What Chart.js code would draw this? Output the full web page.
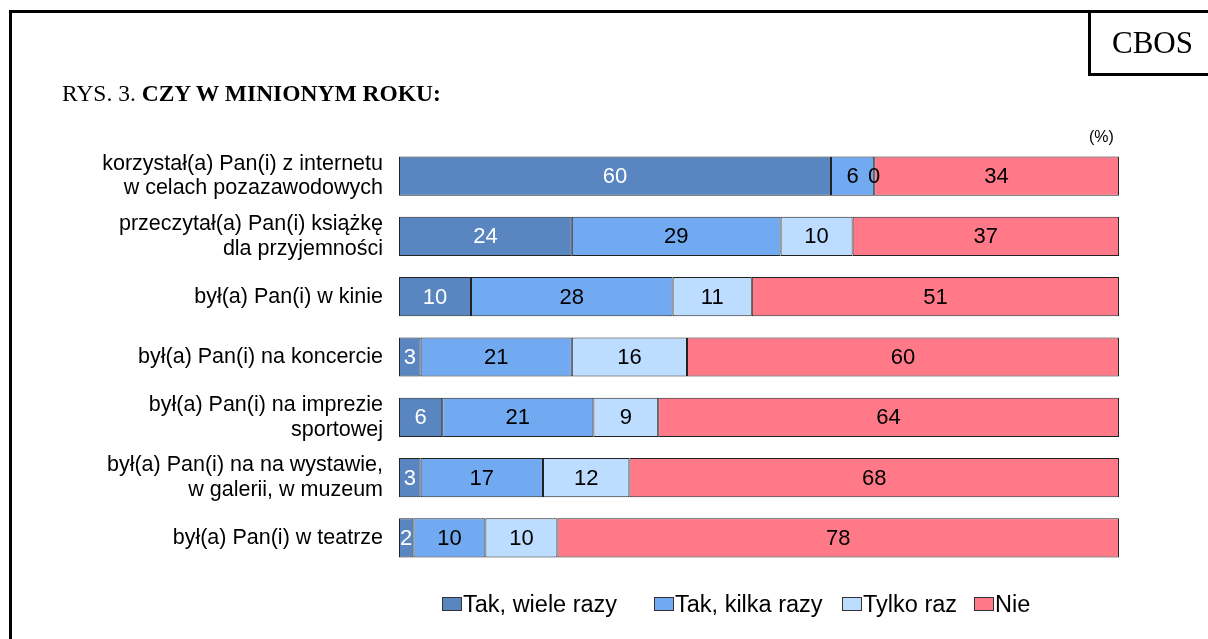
<!DOCTYPE html>
<html>
<head>
<meta charset="utf-8">
<script src="https://cdn.jsdelivr.net/npm/chart.js@4"></script>
<style>
  html, body { margin: 0; padding: 0; background: #fff; }
  #wrap { position: relative; width: 1208px; height: 639px; overflow: hidden; }
  #frameL { position: absolute; left: 9px; top: 10px; width: 3px; height: 640px; background: #000; }
  #frameT { position: absolute; left: 9px; top: 10px; width: 1210px; height: 3px; background: #000; }
  #cbos { position: absolute; left: 1088px; top: 10px; width: 130px; height: 66px; border-left: 3px solid #000; border-bottom: 3px solid #000;
          font-family: "Liberation Serif", serif; font-size: 31px; line-height: 66px; padding-left: 21px; box-sizing: border-box; }
  #title { position: absolute; left: 62px; top: 79px; font-family: "Liberation Serif", serif; font-size: 23.5px; line-height: 28px; }
  #pct { position: absolute; left: 1089px; top: 128px; font-family: "Liberation Sans", Arial, sans-serif; font-size: 16px; }
  #legend { position: absolute; top: 590px; left: 0; width: 1208px; font-family: "Liberation Sans", Arial, sans-serif; font-size: 23.5px; }
  .item { position: absolute; white-space: nowrap; line-height: 28px; }
  .box { display: inline-block; width: 18px; height: 12px; border: 1px solid #333; margin-right: 1px; vertical-align: 1px; }
  canvas { position: absolute; left: 0; top: 0; }
</style>
</head>
<body>
<div id="wrap">
  <canvas id="chart" width="1208" height="639"></canvas>
  <div id="frameL"></div>
  <div id="frameT"></div>
  <div id="cbos">CBOS</div>
  <div id="title">RYS. 3. <b>CZY W MINIONYM ROKU:</b></div>
  <div id="pct">(%)</div>
  <div id="legend"></div>
</div>
<script>
const categories = [
  ['korzystał(a) Pan(i) z internetu', 'w celach pozazawodowych'],
  ['przeczytał(a) Pan(i) książkę', 'dla przyjemności'],
  'był(a) Pan(i) w kinie',
  'był(a) Pan(i) na koncercie',
  ['był(a) Pan(i) na imprezie', 'sportowej'],
  ['był(a) Pan(i) na na wystawie,', 'w galerii, w muzeum'],
  'był(a) Pan(i) w teatrze'
];
const seriesNames = ['Tak, wiele razy', 'Tak, kilka razy', 'Tylko raz', 'Nie'];
const wieleRazy = [60, 24, 10, 3, 6, 3, 2];
const kilkaRazy = [6, 29, 28, 21, 21, 17, 10];
const tylkoRaz = [0, 10, 11, 16, 9, 12, 10];
const nie = [34, 37, 51, 60, 64, 68, 78];
const colors = ['rgb(89,134,192)', 'rgb(113,170,240)', 'rgb(188,221,255)', 'rgb(255,121,136)'];
const labelColors = ['#fff', '#000', '#000', '#000'];
const legendX = [442, 654, 842, 974];

const values = [wieleRazy, kilkaRazy, tylkoRaz, nie];

// data labels in the middle of each segment
const segLabels = {
  id: 'segLabels',
  afterDatasetsDraw(chart) {
    const ctx = chart.ctx;
    ctx.save();
    ctx.font = '22px "Liberation Sans", Arial, sans-serif';
    ctx.textAlign = 'center';
    ctx.textBaseline = 'middle';
    chart.data.datasets.forEach((ds, i) => {
      chart.getDatasetMeta(i).data.forEach((bar, j) => {
        ctx.fillStyle = labelColors[i];
        ctx.fillText(ds.data[j], (bar.x + bar.base) / 2, bar.y + 1);
      });
    });
    ctx.restore();
  }
};

new Chart(document.getElementById('chart'), {
  type: 'bar',
  data: {
    labels: categories,
    datasets: seriesNames.map((name, i) => ({
      label: name,
      data: values[i],
      backgroundColor: colors[i],
      borderColor: '#222',
      borderWidth: 1,
      borderSkipped: false,
      barPercentage: 0.65,
      categoryPercentage: 1
    }))
  },
  options: {
    indexAxis: 'y',
    responsive: false,
    animation: false,
    layout: { padding: { top: 146, bottom: 71, right: 89, left: 0 } },
    plugins: {
      legend: { display: false },
      tooltip: { enabled: false }
    },
    scales: {
      x: { stacked: true, min: 0, max: 100, display: false },
      y: {
        stacked: true,
        grid: { display: false },
        border: { display: false },
        ticks: {
          padding: 8,
          color: '#000',
          font: { family: '"Liberation Sans", Arial, sans-serif', size: 21.5, lineHeight: 1.15 }
        },
        afterFit(scale) { scale.width = 399; }
      }
    }
  },
  plugins: [segLabels]
});

const legend = document.getElementById('legend');
seriesNames.forEach((name, i) => {
  const item = document.createElement('div');
  item.className = 'item';
  item.style.left = legendX[i] + 'px';
  item.innerHTML = '<span class="box" style="background:' + colors[i] + '"></span>' + name;
  legend.appendChild(item);
});
</script>
</body>
</html>
